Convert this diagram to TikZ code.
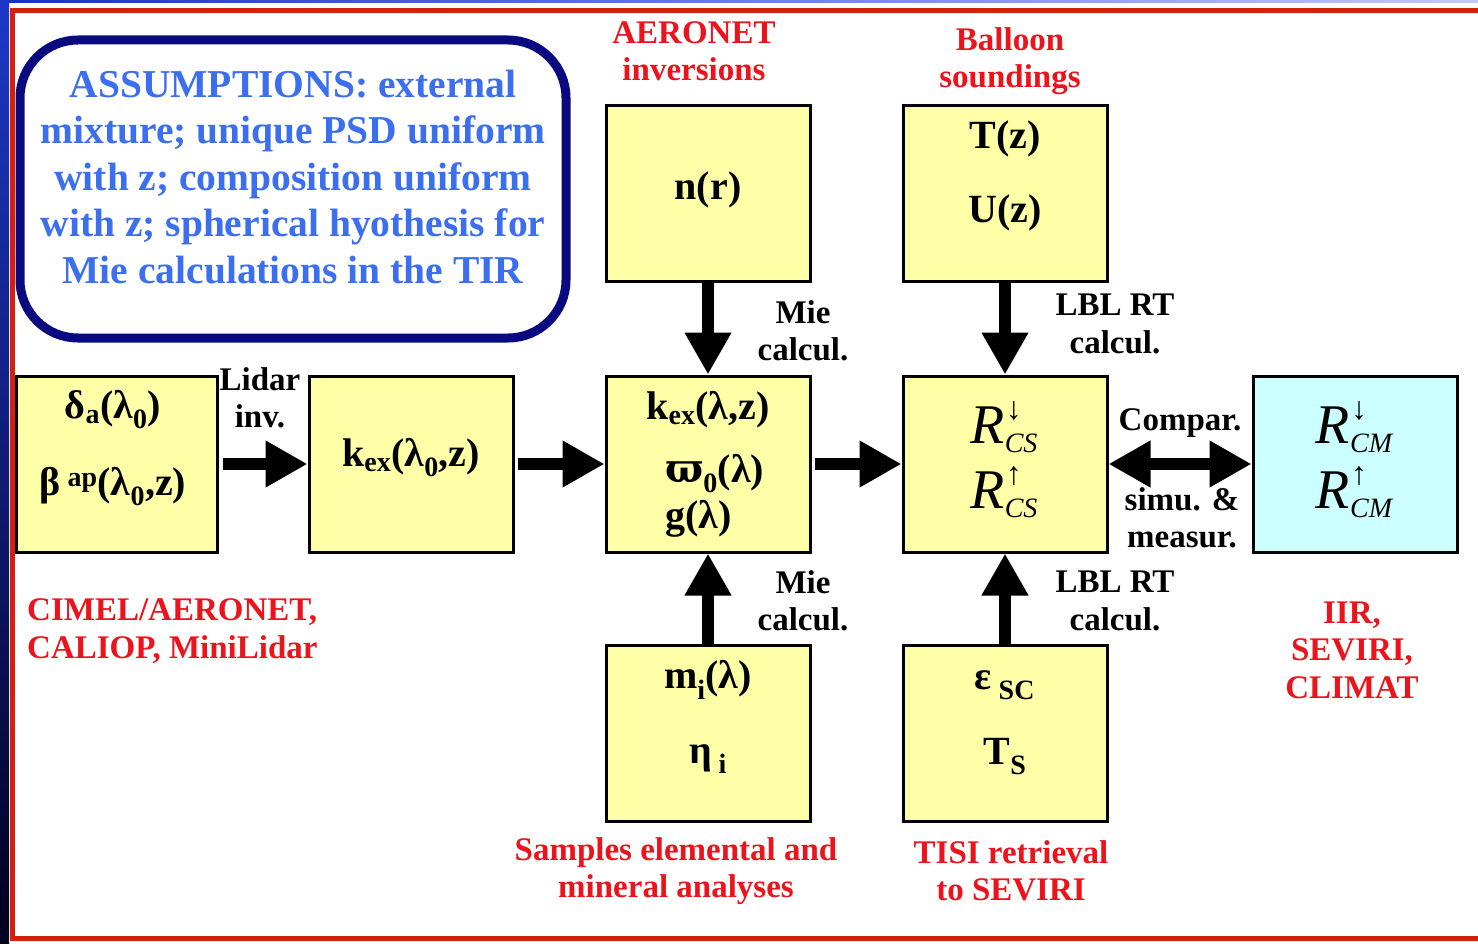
\documentclass[tikz,border=0pt]{standalone}
\usepackage{fontspec}
\setmainfont{Liberation Serif}
\newfontfamily\dvs{DejaVu Serif}
\usetikzlibrary{arrows.meta}
\definecolor{boxyellow}{RGB}{255,255,168}
\definecolor{boxcyan}{RGB}{204,255,255}
\definecolor{framered}{RGB}{212,32,16}
\definecolor{txtred}{RGB}{236,20,28}
\definecolor{asblue}{RGB}{60,110,240}
\definecolor{navy}{RGB}{10,10,128}
\newcommand\bxf{\fontsize{40}{46}\selectfont\bfseries}
\newcommand\lbf{\fontsize{33}{37.5}\selectfont\bfseries}
\newcommand\asf{\fontsize{39.5}{46.5}\selectfont\bfseries}
\newcommand\rrf{\fontsize{56}{65}\selectfont\mdseries}
\newcommand\Rud[2]{{\itshape R\rlap{\kern1pt\raisebox{0.43em}{\fontsize{32}{32}\selectfont\upshape #1}}\raisebox{-0.17em}{\fontsize{28}{28}\selectfont #2}}}
\begin{document}
\begin{tikzpicture}[x=1pt,y=-1pt,
  blk/.style={draw=black,line width=3pt,fill=boxyellow,minimum width=204pt,minimum height=176pt,inner sep=0pt},
  txt/.style={inner sep=0pt,font=\bxf,align=center},
  rtxt/.style={inner sep=0pt,font=\rrf,align=center},
  lbl/.style={inner sep=0pt,font=\lbf,align=center},
  redlbl/.style={inner sep=0pt,font=\lbf,align=center,text=txtred},
  bigarrow/.style={line width=12pt,-{Triangle[length=42pt,width=44pt]}},
  dblarrow/.style={line width=12pt,{Triangle[length=42pt,width=44pt]}-{Triangle[length=42pt,width=44pt]}}]
\useasboundingbox (0,0) rectangle (1478,944);
\fill[white] (0,0) rectangle (1478,944);
% background strips
\shade[left color={rgb,255:red,20;green,50;blue,200},middle color={rgb,255:red,50;green,150;blue,240},right color={rgb,255:red,195;green,200;blue,250}] (0,0) rectangle (1478,3);
\shade[top color={rgb,255:red,30;green,55;blue,200},middle color={rgb,255:red,15;green,20;blue,130},bottom color={rgb,255:red,0;green,0;blue,30}] (0,0) rectangle (9,944);
% red frame
\draw[framered,line width=5pt] (1478,10.5) -- (12,10.5) -- (12,938.5) -- (1478,938.5);
% assumptions
\node[draw=navy,line width=9pt,rounded corners=58pt,minimum width=546pt,minimum height=298pt,inner sep=0pt] (asb) at (293,189) {};
\node[inner sep=0pt,font=\asf,text=asblue,align=center] (ast) at (293,177) {ASSUMPTIONS: external\\mixture; unique PSD uniform\\with z; composition uniform\\with z; spherical hyothesis for\\Mie calculations in the TIR};
% boxes
\node[blk,minimum width=201pt] (A) at (117,464) {};
\node[blk] (B) at (411,464) {};
\node[blk] (C) at (708,464) {};
\node[blk] (D) at (1005,464) {};
\node[blk,fill=boxcyan] (E) at (1355,464) {};
\node[blk] (nr) at (708,193.5) {};
\node[blk] (tu) at (1005,193.5) {};
\node[blk] (mi) at (708,733.5) {};
\node[blk] (es) at (1005,733.5) {};
% box contents
\node[txt] (a1) at (113,410) {δ\textsubscript{a}(λ\textsubscript{0})};
\node[txt] (a2) at (113,487) {β\,\textsuperscript{ap}(λ\textsubscript{0},z)};
\node[txt] (b1) at (411,458) {k\textsubscript{ex}(λ\textsubscript{0},z)};
\node[txt] (c1) at (708,410) {k\textsubscript{ex}(λ,z)};
\node[txt,align=left,anchor=west] (c2) at (665,496) {{\dvs\bfseries ϖ}\textsubscript{0}(λ)\\g(λ)};
\node[rtxt] (d1) at (1004,459.5) {\Rud{↓}{CS}\\\Rud{↑}{CS}};
\node[rtxt] (e1) at (1354,459.5) {\Rud{↓}{CM}\\\Rud{↑}{CM}};
\node[txt] (n1) at (708,190) {n(r)};
\node[txt] (t1) at (1005,139) {T(z)};
\node[txt] (t2) at (1005,213) {U(z)};
\node[txt] (m1) at (708,680) {m\textsubscript{i}(λ)};
\node[txt] (m2) at (708,759) {η\,\textsubscript{i}};
\node[txt] (s1) at (1005,685) {ε\,\textsubscript{SC}};
\node[txt] (s2) at (1005,757) {T\textsubscript{S}};
% arrows
\draw[bigarrow,shorten <=4pt] (A.east) -- (B.west);
\draw[bigarrow,shorten <=3pt] (B.east) -- (C.west);
\draw[bigarrow,shorten <=3pt] (C.east) -- (D.west);
\draw[dblarrow] (D.east) -- (E.west);
\draw[bigarrow] (nr.south) -- (C.north);
\draw[bigarrow] (tu.south) -- (D.north);
\draw[bigarrow] (mi.north) -- (C.south);
\draw[bigarrow] (es.north) -- (D.south);
% arrow labels
\node[lbl] (l1) at (260,398) {Lidar\\inv.};
\node[lbl] (l2) at (803,331) {Mie\\calcul.};
\node[lbl] (l3) at (803,601) {Mie\\calcul.};
\node[lbl] (l4) at (1115,324) {LBL RT\\calcul.};
\node[lbl] (l5) at (1115,601) {LBL RT\\calcul.};
\node[lbl] (l6) at (1180,423) {Compar.};
\node[lbl] (l7) at (1182,518) {simu. \&\\measur.};
% red labels
\node[redlbl] (r1) at (694,51) {AERONET\\inversions};
\node[redlbl] (r2) at (1010,61) {Balloon\\soundings};
\node[redlbl,align=left,anchor=west] (r3) at (27,631) {CIMEL/AERONET,\\CALIOP, MiniLidar};
\node[redlbl] (r4) at (1352,650) {IIR,\\SEVIRI,\\CLIMAT};
\node[redlbl] (r5) at (676,871) {Samples elemental and\\mineral analyses};
\node[redlbl] (r6) at (1011,871) {TISI retrieval\\to SEVIRI};
\end{tikzpicture}
\end{document}
